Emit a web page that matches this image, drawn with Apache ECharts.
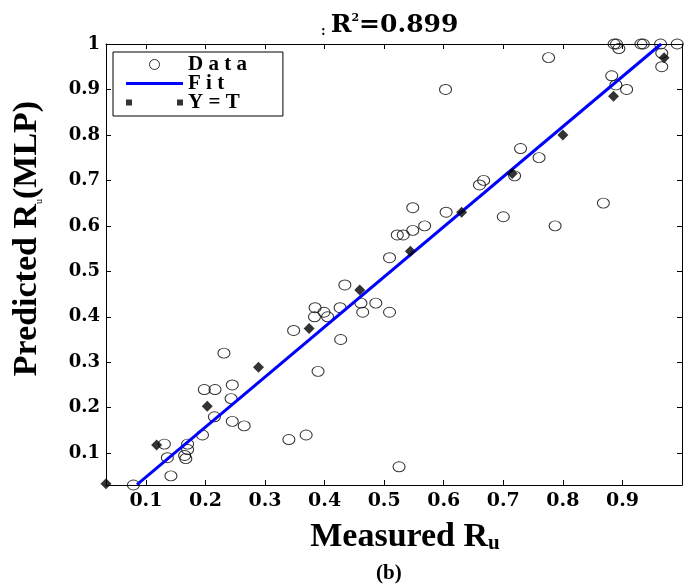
<!DOCTYPE html>
<html><head><meta charset="utf-8">
<script src="https://cdn.jsdelivr.net/npm/echarts@6/dist/echarts.min.js"></script>
<style>html,body{margin:0;padding:0;background:#fff}#c{width:687px;height:587px}</style>
</head><body><div id="c"></div>
<script>
// Data points (Measured Ru, Predicted Ru)
const dataX = [0.079,0.131,0.136,0.142,0.165,0.167,0.170,0.170,0.195,0.215,
  0.198,0.216,0.231,0.245,0.243,0.245,0.265,0.340,0.369,0.348,
  0.384,0.383,0.399,0.405,0.426,0.427,0.389,0.509,0.434,0.461,
  0.486,0.464,0.509,0.522,0.532,0.548,0.568,0.548,0.604,0.660,
  0.667,0.700,0.719,0.729,0.760,0.787,0.868,0.776,0.603,0.525,
  0.882,0.889,0.907,0.886,0.890,0.894,0.931,0.935,0.964,0.966,
  0.966,0.992];
const dataY = [0.03,0.12,0.09,0.05,0.095,0.088,0.108,0.12,0.14,0.18,
  0.24,0.24,0.32,0.25,0.22,0.17,0.16,0.13,0.14,0.37,
  0.42,0.40,0.41,0.40,0.42,0.35,0.28,0.53,0.47,0.43,
  0.43,0.41,0.41,0.58,0.58,0.59,0.60,0.64,0.63,0.69,
  0.70,0.62,0.71,0.77,0.75,0.60,0.65,0.97,0.90,0.07,
  0.93,0.91,0.90,1.0,1.0,0.99,1.0,1.0,1.0,0.98,
  0.95,1.0];
// Y = T reference markers
const refX = [0.033,0.118,0.203,0.289,0.374,0.459,0.544,0.630,0.715,0.800,0.885,0.970];
const refY = [0.033,0.118,0.203,0.289,0.374,0.459,0.544,0.630,0.715,0.800,0.885,0.970];
// Fit line end points
const fitX = [0.085, 0.965];
const fitY = [0.031, 1.0];
// Ticks
const xTicks = [0.1,0.2,0.3,0.4,0.5,0.6,0.7,0.8,0.9];
const yTicks = [0.1,0.2,0.3,0.4,0.5,0.6,0.7,0.8,0.9,1];
const r2Text = '0.899';

const serif = '"Liberation Serif","Times New Roman",serif';
const dserif = '"DejaVu Serif",serif';
const chart = echarts.init(document.getElementById('c'));
const pts = dataX.map((x,i)=>[x,dataY[i]]);
const refPts = refX.map((x,i)=>[x,refY[i]]);
const fitPts = fitX.map((x,i)=>[x,fitY[i]]);
const fmt = v => (Math.abs(v-1)<1e-9 ? '1' : v.toFixed(1));
const axisCommon = {
  type:'value', min:0.033, max:1.0,
  axisLine:{show:true,onZero:false,lineStyle:{color:'#000',width:1}},
  splitLine:{show:false}
};
chart.setOption({
  animation:false,
  backgroundColor:'#fff',
  title:[
    {text:'{c|:} {b|R}{s|2}{b|=' + r2Text + '}', left:316, top:8,
     textStyle:{rich:{
       b:{fontFamily:dserif,fontWeight:'bold',fontSize:25,color:'#000'},
       s:{fontFamily:dserif,fontWeight:'bold',fontSize:11,color:'#000',verticalAlign:'top'},
       c:{fontFamily:serif,fontSize:14,color:'#000',verticalAlign:'bottom'}
     }}},
    {text:'(b)', left:371, top:558, textStyle:{fontFamily:serif,fontWeight:'bold',fontSize:21,color:'#000'}}
  ],
  grid:{left:106,right:5,top:44,bottom:102},
  legend:{
    orient:'vertical', left:113, top:52, padding:[2,36,3,13], itemGap:-2,
    itemWidth:57, itemHeight:10, borderColor:'#000', borderWidth:1, backgroundColor:'#fff',
    selectedMode:false,
    formatter: n => ({'Data':'D a t a','Fit':'F i t'}[n] || n),
    textStyle:{fontFamily:serif,fontWeight:'bold',fontSize:21,color:'#000',lineHeight:17},
    data:[
      {name:'Data',icon:'circle',itemStyle:{color:'#fff',borderColor:'#000',borderWidth:1}},
      {name:'Fit',icon:'path://M0,0h57v3h-57z'},
      {name:'Y = T',icon:'path://M0,0h6v6h-6z M51,0h6v6h-6z'}
    ]
  },
  xAxis:[
    Object.assign({}, axisCommon, {
      position:'bottom',
      axisTick:{show:true,inside:true,length:5,customValues:xTicks,lineStyle:{color:'#000'}},
      axisLabel:{customValues:xTicks,formatter:fmt,color:'#000',fontFamily:dserif,fontWeight:'bold',fontSize:19,margin:7},
      name:'{b|Measured R}{u|u}', nameLocation:'middle', nameGap:35,
      nameTextStyle:{padding:[0,0,0,22],rich:{
        b:{fontFamily:serif,fontWeight:'bold',fontSize:34,color:'#000'},
        u:{fontFamily:serif,fontWeight:'bold',fontSize:21,color:'#000',verticalAlign:'bottom',padding:[12,0,0,0]}
      }}
    }),
    Object.assign({}, axisCommon, {
      position:'top',
      axisTick:{show:true,inside:true,length:5,customValues:xTicks,lineStyle:{color:'#000'}},
      axisLabel:{show:false}
    })
  ],
  yAxis:[
    Object.assign({}, axisCommon, {
      min:0.03, max:1.0, position:'left',
      axisTick:{show:true,inside:true,length:5,customValues:yTicks,lineStyle:{color:'#000'}},
      axisLabel:{customValues:yTicks,formatter:fmt,color:'#000',fontFamily:dserif,fontWeight:'bold',fontSize:18,margin:6},
      name:'{b|Predicted R}{u|u}{b|(MLP)}', nameLocation:'middle', nameGap:62,
      nameTextStyle:{padding:[0,0,0,52],rich:{
        b:{fontFamily:serif,fontWeight:'bold',fontSize:34,color:'#000'},
        u:{fontFamily:serif,fontSize:10,color:'#000',verticalAlign:'bottom'}
      }}
    }),
    Object.assign({}, axisCommon, {
      min:0.03, max:1.0, position:'right',
      axisTick:{show:true,inside:true,length:5,customValues:yTicks,lineStyle:{color:'#000'}},
      axisLabel:{show:false}
    })
  ],
  series:[
    {name:'Data',type:'scatter',data:pts,symbol:'circle',symbolSize:[12,10],clip:false,
     itemStyle:{color:'rgba(0,0,0,0)',borderColor:'#000',borderWidth:1},z:2},
    {name:'Fit',type:'line',data:fitPts,symbol:'none',showSymbol:false,
     lineStyle:{color:'#0000ff',width:3},itemStyle:{color:'#0000ff'},z:3},
    {name:'Y = T',type:'scatter',data:refPts,symbol:'diamond',symbolSize:[11,11],clip:false,
     itemStyle:{color:'#000'},z:4}
  ]
});
</script></body></html>
